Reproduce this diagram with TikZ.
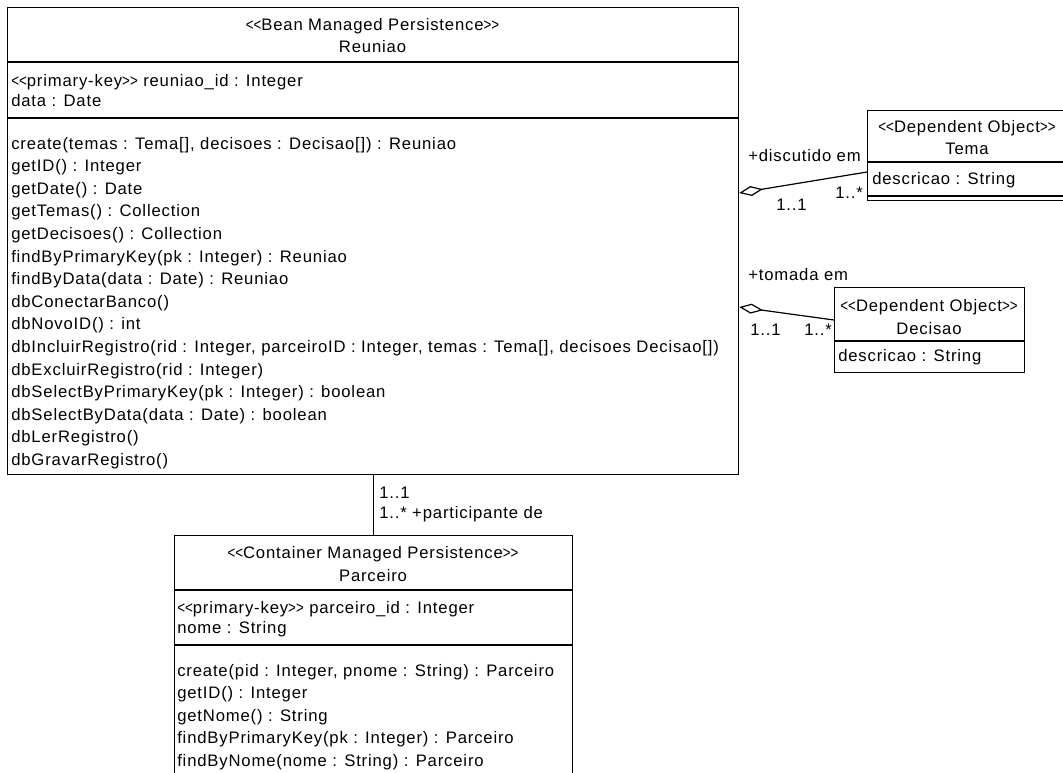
\documentclass[tikz,border=0pt]{standalone}
\usepackage{fontspec}
\setmainfont{Liberation Sans}[LetterSpace=5.0]
\usepackage{graphicx}
\usetikzlibrary{arrows.meta}
\newcommand\lsym{\scalebox{0.8}[1]{<}}
\newcommand\gsym{\scalebox{0.8}[1]{>}}
\newcommand\stlt{\lsym\lsym}
\newcommand\stgt{\gsym\gsym}
\begin{document}
\begin{tikzpicture}[x=0.75pt,y=-0.75pt,
  font=\fontsize{12.5pt}{15pt}\selectfont,
  box/.style={draw, line width=0.9pt, inner sep=0pt, anchor=north west},
  txt/.style={inner sep=0pt, anchor=base west},
  ctr/.style={inner sep=0pt, anchor=base},
  sepline/.style={line width=0.9pt},
  conn/.style={line width=0.9pt},
  aggr/.style={conn, {Diamond[open,length=18pt,width=7.5pt]}-}]
\fill[white] (0,0) rectangle (1063,772);
\useasboundingbox (0,0) rectangle (1063,772);

% ---------- Reuniao ----------
\node[box, minimum width=548.25pt, minimum height=350.25pt] (reuniao) at (7,7) {};
\draw[sepline] (reuniao.west |- 0,62) -- (reuniao.east |- 0,62);
\draw[sepline] (reuniao.west |- 0,118) -- (reuniao.east |- 0,118);
\node[ctr] (rst) at (372.5,30) {\stlt Bean Managed Persistence\stgt};
\node[ctr] (rname) at (372.5,52) {Reuniao};
\node[txt] (ra1) at (11,86) {\stlt primary-key\stgt{} reuniao\_id : Integer};
\node[txt] (ra2) at (11,106) {data : Date};
\foreach \m [count=\i from 0] in {
  {create(temas : Tema[], decisoes : Decisao[]) : Reuniao},
  {getID() : Integer},
  {getDate() : Date},
  {getTemas() : Collection},
  {getDecisoes() : Collection},
  {findByPrimaryKey(pk : Integer) : Reuniao},
  {findByData(data : Date) : Reuniao},
  {dbConectarBanco()},
  {dbNovoID() : int},
  {dbIncluirRegistro(rid : Integer, parceiroID : Integer, temas : Tema[], decisoes Decisao[])},
  {dbExcluirRegistro(rid : Integer)},
  {dbSelectByPrimaryKey(pk : Integer) : boolean},
  {dbSelectByData(data : Date) : boolean},
  {dbLerRegistro()},
  {dbGravarRegistro()}}
  {\node[txt] (rm\i) at (11,{149+22.6*\i}) {\m};}

% ---------- Tema ----------
\node[box, minimum width=156pt, minimum height=67.5pt] (tema) at (867,110) {};
\draw[sepline] (tema.west |- 0,162) -- (tema.east |- 0,162);
\draw[sepline] (tema.west |- 0,196) -- (tema.east |- 0,196);
\node[ctr] (tst) at (967,132) {\stlt Dependent Object\stgt};
\node[ctr] (tname) at (967,154) {Tema};
\node[txt] (ta1) at (872,184) {descricao : String};

% ---------- Decisao ----------
\node[box, minimum width=142.5pt, minimum height=63.75pt] (decisao) at (834,287) {};
\draw[sepline] (decisao.west |- 0,341) -- (decisao.east |- 0,341);
\node[ctr] (dst) at (929,311) {\stlt Dependent Object\stgt};
\node[ctr] (dname) at (929,334) {Decisao};
\node[txt] (da1) at (838,361) {descricao : String};

% ---------- Parceiro ----------
\node[box, minimum width=298.5pt, minimum height=198.75pt] (parceiro) at (174,535) {};
\draw[sepline] (parceiro.west |- 0,590) -- (parceiro.east |- 0,590);
\draw[sepline] (parceiro.west |- 0,645) -- (parceiro.east |- 0,645);
\node[ctr] (pst) at (373,558) {\stlt Container Managed Persistence\stgt};
\node[ctr] (pname) at (373,581) {Parceiro};
\node[txt] (pa1) at (177,613) {\stlt primary-key\stgt{} parceiro\_id : Integer};
\node[txt] (pa2) at (177,633) {nome : String};
\foreach \m [count=\i from 0] in {
  {create(pid : Integer, pnome : String) : Parceiro},
  {getID() : Integer},
  {getNome() : String},
  {findByPrimaryKey(pk : Integer) : Parceiro},
  {findByNome(nome : String) : Parceiro}}
  {\node[txt] (pm\i) at (177,{676+22.6*\i}) {\m};}

% ---------- connectors ----------
\draw[aggr] (reuniao.east |- 0,193) -- (tema.west |- 0,172);
\draw[aggr] (reuniao.east |- 0,307) -- (decisao.west |- 0,320);
\draw[conn] (reuniao.south -| parceiro.north) -- (parceiro.north);

% ---------- labels ----------
\node[txt] (lDisc) at (748,161) {+discutido em};
\node[txt] (lT11) at (776,210) {1..1};
\node[txt] (lT1n) at (835,198) {1..*};
\node[txt] (lTom) at (748,280) {+tomada em};
\node[txt] (lD11) at (750,335) {1..1};
\node[txt] (lD1n) at (804,335) {1..*};
\node[txt] (lP11) at (379,498) {1..1};
\node[txt] (lP1n) at (379,518) {1..* +participante de};
\end{tikzpicture}
\end{document}
